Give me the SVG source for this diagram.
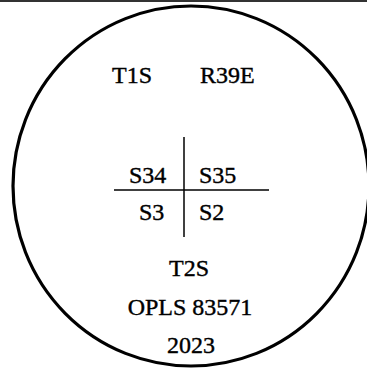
<svg xmlns="http://www.w3.org/2000/svg" width="367" height="371" viewBox="0 0 367 371">
<style>
text{font-family:"Liberation Serif","Times New Roman",serif;font-size:24px;fill:#000;stroke:#000;stroke-width:0.4}
.ln{stroke:#000;stroke-width:1.5;fill:none}
</style>
<rect width="367" height="371" fill="#fff"/>
<line x1="0" y1="1" x2="367" y2="1" stroke="#333" stroke-width="2"/>
<g id="seal">
<ellipse cx="191" cy="186" rx="178" ry="180" fill="none" stroke="#000" stroke-width="3.2"/>
</g>
<g id="connectors">
<line class="ln" x1="114" y1="190" x2="269" y2="190"/>
<line class="ln" x1="184" y1="137" x2="184" y2="237"/>
</g>
<g id="t1s"><text x="112" y="83">T1S</text></g>
<g id="r39e"><text x="200" y="83">R39E</text></g>
<g id="s34"><text x="129" y="183">S34</text></g>
<g id="s35"><text x="199" y="183">S35</text></g>
<g id="s3"><text x="139" y="220">S3</text></g>
<g id="s2"><text x="199" y="220">S2</text></g>
<g id="t2s"><text x="189" y="276" text-anchor="middle">T2S</text></g>
<g id="opls"><text x="190" y="315" text-anchor="middle">OPLS 83571</text></g>
<g id="year"><text x="191" y="353" text-anchor="middle">2023</text></g>
</svg>
